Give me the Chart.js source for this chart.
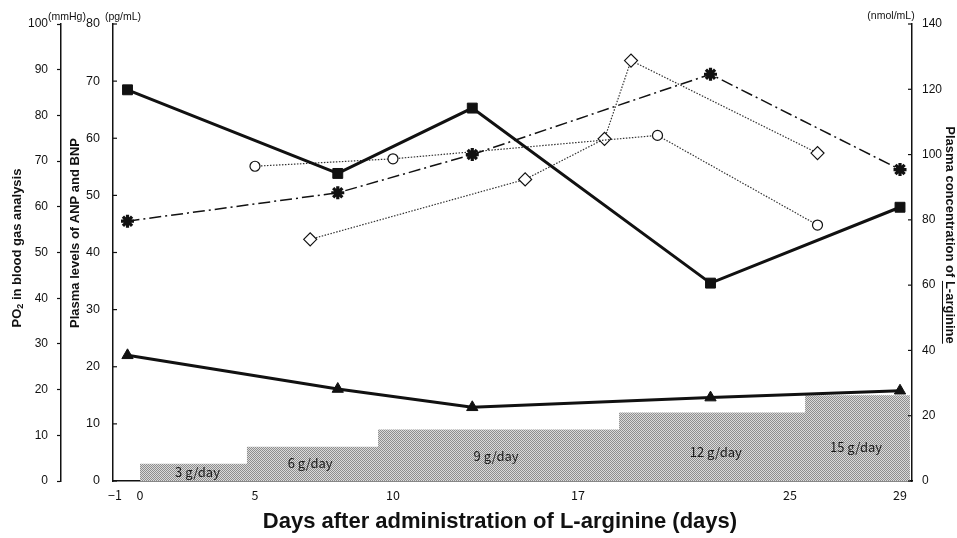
<!DOCTYPE html>
<html>
<head>
<meta charset="utf-8">
<script src="https://cdn.jsdelivr.net/npm/chart.js@4.4.0/dist/chart.umd.min.js"></script>
<style>
html,body{margin:0;padding:0;background:#fff;}
#wrap{width:957px;height:538px;}
</style>
</head>
<body>
<div id="wrap"><canvas id="c" width="957" height="538"></canvas></div>
<script>
// ---------------- data ----------------
const xTickValues   = [-1, 0, 5, 10, 17, 25, 29];
const daysMain      = [-0.5, 8, 13, 22, 29];
const po2Squares    = [85.6, 67.3, 81.6, 43.3, 59.9];    // mmHg (left axis)
const argAsterisks  = [79.6, 88.3, 100, 124.6, 95.4];    // nmol/mL (right axis)
const triValues     = [22.0, 16.1, 12.9, 14.6, 15.8];    // pg/mL
const daysCircles   = [5, 10, 20, 26];
const circleValues  = [55.1, 56.4, 60.5, 44.8];          // pg/mL
const daysDiamonds  = [7, 15, 18, 19, 26];
const diamondValues = [42.3, 52.8, 59.9, 73.6, 57.4];    // pg/mL
const doseDays      = [0, 4.65, 9.46, 18.55, 25.55, 29.36];
const doseValues    = [3, 6, 9, 12, 15, 15];             // g/day
const doseLabels    = ['3 g/day', '6 g/day', '9 g/day', '12 g/day', '15 g/day'];

// ---------------- layout config ----------------
// nonlinear day axis: [day, fraction of plot width]
const xKnots = [[-1,0.0025],[0,0.0338],[5,0.1777],[10,0.3504],[17,0.5820],[25,0.8473],[29,0.9850]];
const doseLabelAt = [[2.5,1.6],[7,3.2],[13.9,4.4],[22.2,5.1],[27.4,6.0]];

class PiecewiseScale extends Chart.LinearScale {
  _frac(v){
    const k = xKnots;
    let i = 0;
    if (v <= k[0][0]) i = 0;
    else if (v >= k[k.length-1][0]) i = k.length-2;
    else { while (i < k.length-2 && v > k[i+1][0]) i++; }
    const v0=k[i][0], f0=k[i][1], v1=k[i+1][0], f1=k[i+1][1];
    return f0 + (v - v0) * (f1 - f0) / (v1 - v0);
  }
  getPixelForValue(v){
    if (v === null || v === undefined || isNaN(v)) return NaN;
    return this.left + this._frac(v) * this.width;
  }
  getValueForPixel(p){
    const f = (p - this.left) / this.width;
    const k = xKnots;
    let i = 0;
    if (f <= k[0][1]) i = 0;
    else if (f >= k[k.length-1][1]) i = k.length-2;
    else { while (i < k.length-2 && f > k[i+1][1]) i++; }
    const v0=k[i][0], f0=k[i][1], v1=k[i+1][0], f1=k[i+1][1];
    return v0 + (f - f0) * (v1 - v0) / (f1 - f0);
  }
}
PiecewiseScale.id = 'piecewise';
Chart.register(PiecewiseScale);

function pts(xs, ys){ return xs.map((x,i)=>({x:x, y:ys[i]})); }

const canvas = document.getElementById('c');
const ctx0 = canvas.getContext('2d');
function makePattern(ctx){
  const c = document.createElement('canvas'); c.width = 2; c.height = 2;
  const g = c.getContext('2d');
  g.fillStyle = '#dadada'; g.fillRect(0,0,2,2);
  g.fillStyle = '#8e8e8e'; g.fillRect(0,0,1,1); g.fillRect(1,1,1,1);
  return ctx.createPattern(c, 'repeat');
}

const tickFont = {family:'"Liberation Sans", Arial, sans-serif', size:12};
const ink = '#111';

const extras = {
  id:'extras',
  afterDatasetsDraw(chart){
    const ctx = chart.ctx, xs = chart.scales.x, ya = chart.scales.yA;
    ctx.save();
    ctx.fillStyle = '#1a1a1a';
    ctx.font = '13px "Noto Sans CJK JP", "DejaVu Sans", sans-serif';
    ctx.textAlign = 'center'; ctx.textBaseline = 'middle';
    doseLabels.forEach((t,i)=>{
      ctx.fillText(t, xs.getPixelForValue(doseLabelAt[i][0]), ya.getPixelForValue(doseLabelAt[i][1]));
    });
    ctx.restore();
  },
  afterDraw(chart){
    const ctx = chart.ctx;
    const ya = chart.scales.yA, yr = chart.scales.yR;
    ctx.save();
    // inward tick marks
    ctx.strokeStyle = ink; ctx.lineWidth = 1.2;
    ya.ticks.forEach(t=>{ const y = ya.getPixelForValue(t.value);
      ctx.beginPath(); ctx.moveTo(ya.right, y); ctx.lineTo(ya.right+4, y); ctx.stroke(); });
    yr.ticks.forEach(t=>{ const y = yr.getPixelForValue(t.value);
      ctx.beginPath(); ctx.moveTo(yr.left, y); ctx.lineTo(yr.left-4, y); ctx.stroke(); });

    ctx.fillStyle = ink;
    ctx.textAlign = 'center'; ctx.textBaseline = 'middle';
    // x title
    ctx.font = 'bold 22px "Liberation Sans", Arial, sans-serif';
    ctx.fillText('Days after administration of L-arginine (days)', 500, 522);
    // unit labels
    ctx.font = '10.5px "Liberation Sans", Arial, sans-serif';
    ctx.fillText('(mmHg)', 67, 17);
    ctx.fillText('(pg/mL)', 123, 17);
    ctx.fillText('(nmol/mL)', 891, 16);

    // PO2 title
    ctx.save();
    ctx.translate(17, 248); ctx.rotate(-Math.PI/2);
    const fMain = 'bold 13px "Liberation Sans", Arial, sans-serif';
    const fSub = 'bold 9px "Liberation Sans", Arial, sans-serif';
    ctx.font = fMain; const w1 = ctx.measureText('PO').width; const w3 = ctx.measureText(' in blood gas analysis').width;
    ctx.font = fSub; const w2 = ctx.measureText('2').width;
    let x0 = -(w1+w2+w3)/2;
    ctx.textAlign = 'left';
    ctx.font = fMain; ctx.fillText('PO', x0, 0);
    ctx.font = fSub; ctx.fillText('2', x0+w1, 4);
    ctx.font = fMain; ctx.fillText(' in blood gas analysis', x0+w1+w2, 0);
    ctx.restore();

    // ANP/BNP title
    ctx.save();
    ctx.translate(75, 233); ctx.rotate(-Math.PI/2);
    ctx.font = fMain; ctx.textAlign = 'center';
    ctx.fillText('Plasma levels of ANP and BNP', 0, 0);
    ctx.restore();

    // right title
    ctx.save();
    ctx.translate(950, 235); ctx.rotate(Math.PI/2);
    ctx.font = fMain; ctx.textAlign = 'left';
    const a = 'Plasma concentration of ', b = 'L-arginine';
    const wa = ctx.measureText(a).width, wb = ctx.measureText(b).width;
    const s = -(wa+wb)/2;
    ctx.fillText(a, s, 0); ctx.fillText(b, s+wa, 0);
    ctx.strokeStyle = ink; ctx.lineWidth = 1;
    ctx.beginPath(); ctx.moveTo(s+wa, 7.5); ctx.lineTo(s+wa+wb, 7.5); ctx.stroke();
    ctx.restore();

    ctx.restore();
  }
};

new Chart(canvas, {
  type: 'line',
  data: {
    datasets: [
      { label:'dose', data: pts(doseDays, doseValues), yAxisID:'yA', stepped:true,
        fill:'origin', backgroundColor: makePattern(ctx0), borderWidth:0, borderColor:'rgba(0,0,0,0)',
        pointRadius:0, order:10 },
      { label:'squares', data: pts(daysMain, po2Squares), yAxisID:'yP',
        borderColor:ink, borderWidth:3, pointStyle:'rect', pointRadius:7,
        pointBackgroundColor:ink, pointBorderColor:ink, pointBorderWidth:1, order:1 },
      { label:'triangles', data: pts(daysMain, triValues), yAxisID:'yA',
        borderColor:ink, borderWidth:3, pointStyle:'triangle', pointRadius:6.5,
        pointBackgroundColor:ink, pointBorderColor:ink, pointBorderWidth:1, order:1 },
      { label:'asterisks', data: pts(daysMain, argAsterisks), yAxisID:'yR',
        borderColor:ink, borderWidth:1.5, borderDash:[12,4,2,4], pointStyle:'star', pointRadius:6.5,
        pointBackgroundColor:ink, pointBorderColor:ink, pointBorderWidth:3.2, order:1 },
      { label:'circles', data: pts(daysCircles, circleValues), yAxisID:'yA',
        borderColor:'#333', borderWidth:1.2, borderDash:[1.5,1.5], pointStyle:'circle', pointRadius:5,
        pointBackgroundColor:'#fff', pointBorderColor:ink, pointBorderWidth:1.2, order:1 },
      { label:'diamonds', data: pts(daysDiamonds, diamondValues), yAxisID:'yA',
        borderColor:'#333', borderWidth:1.2, borderDash:[1.5,1.5], pointStyle:'rectRot', pointRadius:6.5,
        pointBackgroundColor:'#fff', pointBorderColor:ink, pointBorderWidth:1.2, order:1 }
    ]
  },
  options: {
    responsive:false, animation:false, devicePixelRatio:1,
    layout:{ padding:{top:24, left:0, right:0, bottom:0} },
    plugins:{ legend:{display:false}, tooltip:{enabled:false}, title:{display:false} },
    elements:{ line:{ tension:0 } },
    scales:{
      x:{ type:'piecewise', min:-1.1, max:29.45,
          afterBuildTicks: s => { s.ticks = xTickValues.map(v=>({value:v})); },
          afterFit: s => { s.height = 57; },
          grid:{ drawOnChartArea:false, drawTicks:false },
          border:{ color:ink, width:1.5 },
          ticks:{ autoSkip:false, maxRotation:0, padding:7, color:ink,
                  font:{family:'"Noto Sans CJK JP", "Liberation Sans", sans-serif', size:12.5},
                  callback: v => v < 0 ? '\u2212' + Math.abs(v) : String(v) } },
      yA:{ position:'left', weight:0, min:0, max:80,
           afterFit: s => { s.width = 52; },
           grid:{ drawOnChartArea:false, drawTicks:false },
           border:{ color:ink, width:1.5 },
           ticks:{ stepSize:10, padding:13, color:ink, font:{family:'"Liberation Sans", Arial, sans-serif', size:12.5} } },
      yP:{ position:'left', weight:1, min:0, max:100,
           afterFit: s => { s.width = 61; },
           grid:{ drawOnChartArea:false, drawTicks:true, tickLength:4, color:ink, tickWidth:1.2 },
           border:{ color:ink, width:1.5 },
           ticks:{ stepSize:10, padding:9, color:ink, font:tickFont } },
      yR:{ position:'right', min:0, max:140,
           afterFit: s => { s.width = 45; },
           grid:{ drawOnChartArea:false, drawTicks:false },
           border:{ color:ink, width:1.5 },
           ticks:{ stepSize:20, padding:10, color:ink, font:tickFont } }
    }
  },
  plugins:[extras]
});
</script>
</body>
</html>
